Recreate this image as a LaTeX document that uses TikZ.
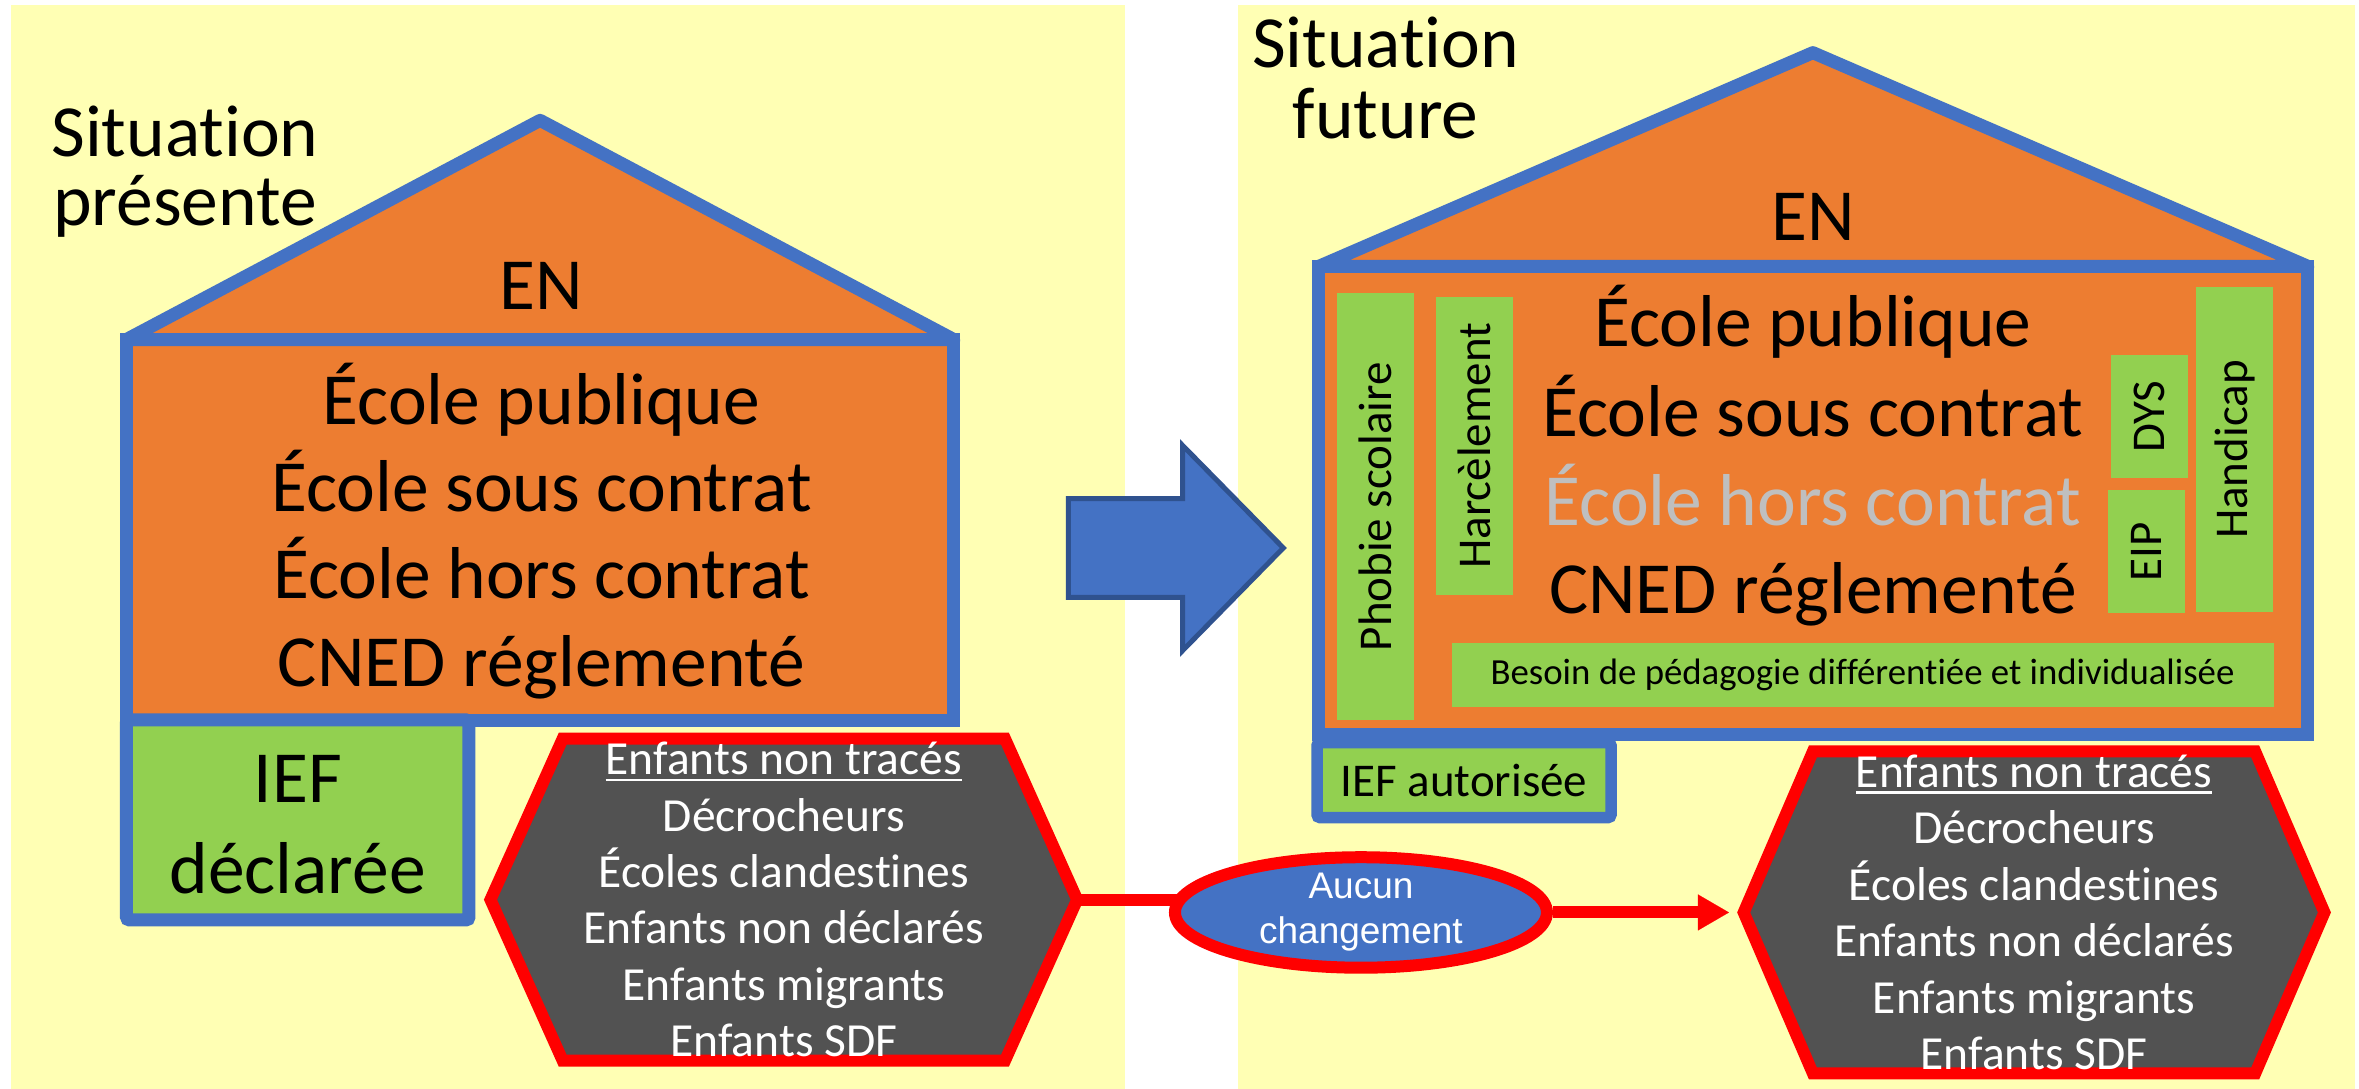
\documentclass[tikz,border=0pt]{standalone}
\usepackage{fontspec}
\setmainfont{Carlito}[Ligatures=NoCommon]
\newfontfamily\arialf{Liberation Sans}
\usetikzlibrary{shapes.geometric,arrows.meta}
\pgfdeclarelayer{bg}\pgfdeclarelayer{conn}
\pgfsetlayers{bg,conn,main}
\definecolor{ylw}{HTML}{FFFFB4}
\definecolor{org}{HTML}{ED7D31}
\definecolor{blu}{HTML}{4472C4}
\definecolor{dblu}{HTML}{2F528F}
\definecolor{grn}{HTML}{92D050}
\definecolor{hexg}{HTML}{525252}
\definecolor{lgray}{HTML}{BFBFBF}
\newcommand\myul[1]{\setbox0\hbox{#1}\rlap{\rule[-0.13em]{\wd0}{0.05em}}\box0}
\begin{document}
\begin{tikzpicture}[x=1.5045pt,y=-1.5045pt,
 panel/.style={fill=ylw},
 wall/.style={fill=org, draw=blu, line width=13pt},
 big/.style={font=\fontsize{73.5}{87}\selectfont, inner sep=0pt, anchor=base},
 gbox/.style={fill=grn, inner sep=0pt, font=\fontsize{47}{56}\selectfont, rotate=90, minimum height=77pt},
 hexa/.style={fill=hexg, draw=red, line width=12pt, line join=miter},
 hextxt/.style={text=white, align=center, font=\fontsize{47.5}{56.4}\selectfont, inner sep=0pt},
 redline/.style={draw=red, line width=12pt},
 iefbox/.style={fill=grn, draw=blu, rounded corners=3pt, inner sep=0pt},
]
\useasboundingbox (0,0) rectangle (1568,723.8);
\begin{pgfonlayer}{bg}
\fill[white] (0,0) rectangle (1568,723.8);
\fill[panel] (7,3) rectangle (748,723.8);
\fill[panel] (823,3) rectangle (1565,723.8);
\end{pgfonlayer}

% ---------- left: present situation
\node[big] (sitL1) at (123,104) {Situation};
\node[big] (sitL2) at (123,150) {présente};

\draw[wall] (84,225.7) rectangle (634,478.6);
\draw[wall, line join=round] (84,225.7) -- (359,80) -- (634,225.7) -- cycle;
\node[big] (enL) at (360,205.5) {EN};
\node[big] (l1) at (360,282) {École publique};
\node[big] (l2) at (360,340) {École sous contrat};
\node[big] (l3) at (360,398) {École hors contrat};
\node[big] (l4) at (360,456) {CNED réglementé};

\node[iefbox, line width=13pt, minimum width=342.5pt, minimum height=200pt] (iefL) at (197.9,545) {};
\node[big] (iefL1) at (iefL.center |- 0,533.5) {IEF};
\node[big] (iefL2) at (iefL.center |- 0,594) {déclarée};

\draw[hexa] (326,598) coordinate (lhW) -- (374,491) -- (668,491) -- (716,598) coordinate (lhE)
   -- (668,705) -- (374,705) -- cycle;
\node[hextxt] (lhex) at (521,598) {\myul{Enfants non tracés}\\Décrocheurs\\Écoles clandestines\\Enfants non déclarés\\Enfants migrants\\Enfants SDF};

% ---------- big blue arrow
\draw[fill=blu, draw=dblu, line width=5pt, line join=miter]
  (710.2,331.4) -- (786,331.4) -- (786,296) -- (853,364.2) -- (786,432.5) -- (786,397) -- (710.2,397) -- cycle;

% ---------- right: future situation
\node[big] (sitR1) at (921,45) {Situation};
\node[big] (sitR2) at (921,92) {future};

\draw[wall] (876.7,177) rectangle (1534,488);
\draw[wall, line join=round] (876.7,177) -- (1205,35) -- (1534,177) -- cycle;
\node[big] (enR) at (1205,160) {EN};
\node[big] (r1) at (1205,230.5) {École publique};
\node[big] (r2) at (1205,290) {École sous contrat};
\node[big, text=lgray] (r3) at (1205,349.5) {École hors contrat};
\node[big] (r4) at (1205,408) {CNED réglementé};

\node[gbox, minimum width=427pt] (phob) at (914.3,336.8) {Phobie scolaire};
\node[gbox, minimum width=298pt] (harc) at (980,296.3) {Harcèlement};
\node[gbox, minimum width=123pt] (dys) at (1428.5,277) {DYS};
\node[gbox, minimum width=123pt] (eip) at (1426.5,366.8) {EIP};
\node[gbox, minimum width=325pt] (hand) at (1485.5,298.8) {Handicap};
\node[fill=grn, inner sep=0pt, minimum width=822pt, minimum height=64pt,
      font=\fontsize{36.8}{44}\selectfont] (bes) at (1238,448.5) {Besoin de pédagogie différentiée et individualisée};

\node[iefbox, line width=11.5pt, minimum width=294pt, minimum height=75pt,
      font=\fontsize{47}{56}\selectfont] (iefR) at (973.1,518.5) {IEF autorisée};

\draw[hexa] (1159,606.5) coordinate (rhW) -- (1205,499.5) -- (1499,499.5) -- (1545,606.5)
   -- (1499,713.5) -- (1205,713.5) -- cycle;
\node[hextxt] (rhex) at (1352,606.5) {\myul{Enfants non tracés}\\Décrocheurs\\Écoles clandestines\\Enfants non déclarés\\Enfants migrants\\Enfants SDF};
\coordinate (rtip) at (1149.2,606.5);

% ---------- ellipse and connectors
\node[ellipse, fill=blu, draw=red, line width=12pt, minimum width=372pt, minimum height=108pt,
      inner sep=0pt, text=white, align=center, font=\arialf\fontsize{37}{45}\selectfont] (ell) at (904.6,606.5) {Aucun\\changement};
\begin{pgfonlayer}{conn}
\draw[redline] (lhE) -- (ell.center |- lhE);
\end{pgfonlayer}
\draw[redline, -{Triangle[length=31pt,width=36pt,line width=0.1pt]}] (ell.east) -- (rtip);
\end{tikzpicture}
\end{document}
